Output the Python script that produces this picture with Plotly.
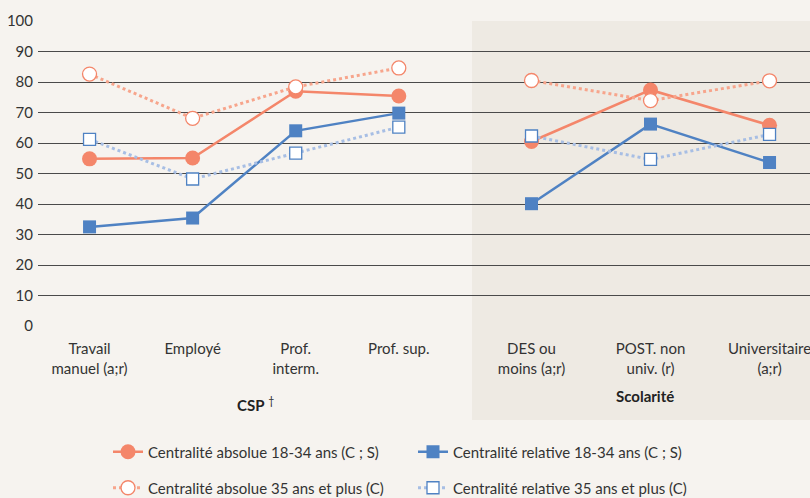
import plotly.graph_objects as go

csp_labels = ["Travail<br>manuel (a;r)", "Employé", "Prof.<br>interm.", "Prof. sup."]
sco_labels = ["DES ou<br>moins (a;r)", "POST. non<br>univ. (r)", "Universitaire<br>(a;r)"]

abs_1834_csp = [54.8, 55.1, 77.0, 75.4]
abs_1834_sco = [60.5, 77.4, 65.8]
rel_1834_csp = [32.5, 35.4, 64.0, 69.8]
rel_1834_sco = [40.1, 66.2, 53.6]
abs_35_csp = [82.6, 68.1, 78.4, 84.6]
abs_35_sco = [80.5, 73.9, 80.4]
rel_35_csp = [61.2, 48.2, 56.7, 65.2]
rel_35_sco = [62.3, 54.6, 62.8]

names = ["Centralité absolue 18-34 ans (C ; S)", "Centralité relative 18-34 ans (C ; S)",
         "Centralité absolue 35 ans et plus (C)", "Centralité relative 35 ans et plus (C)"]

SALMON = "#F4866A"
SALMON_L = "#F7A58C"
BLUE = "#4F82C3"
BLUE_L = "#A7BEE4"
BG = "#F6F3EF"
SHADE = "#EEEAE3"
FONT = "Lato"
FS = 15

styles = [
    dict(line=dict(color=SALMON, width=2.5), marker=dict(symbol="circle", size=15, color=SALMON, line=dict(width=0)), legend="legend"),
    dict(line=dict(color=BLUE, width=2.5), marker=dict(symbol="square", size=13, color=BLUE, line=dict(width=0)), legend="legend"),
    dict(line=dict(color=SALMON_L, width=3, dash="dot"), marker=dict(symbol="circle", size=14, color="white", line=dict(width=1.3, color=SALMON)), legend="legend2"),
    dict(line=dict(color=BLUE_L, width=3, dash="dot"), marker=dict(symbol="square", size=12, color="white", line=dict(width=1.3, color=BLUE)), legend="legend2"),
]
series_csp = [abs_1834_csp, rel_1834_csp, abs_35_csp, rel_35_csp]
series_sco = [abs_1834_sco, rel_1834_sco, abs_35_sco, rel_35_sco]

fig = go.Figure()
for i in range(4):
    st = styles[i]
    fig.add_trace(go.Scatter(x=csp_labels, y=series_csp[i], mode="lines+markers", name=names[i],
                             line=st["line"], marker=st["marker"], legend=st["legend"],
                             xaxis="x", yaxis="y"))
    fig.add_trace(go.Scatter(x=sco_labels, y=series_sco[i], mode="lines+markers", name=names[i],
                             line=st["line"], marker=st["marker"], showlegend=False,
                             xaxis="x2", yaxis="y"))

W, H = 810, 498
ml, mr, mt, mb = 38, 0, 21, 172
pw = W - ml - mr
ph = H - mt - mb
split = (472 - ml) / pw

def py(pix):
    return (H - mb - pix) / ph

def px(pix):
    return (pix - ml) / pw

tickfont = dict(family=FONT, size=FS, color="#333333")
axis_common = dict(showgrid=False, zeroline=False, showline=False, ticks="", tickfont=tickfont,
                   type="category", ticklabelstandoff=12)

legfont = dict(family=FONT, size=FS, color="#333333")
fig.update_layout(
    width=W, height=H,
    margin=dict(l=ml, r=mr, t=mt, b=mb, autoexpand=False),
    paper_bgcolor=BG, plot_bgcolor="rgba(0,0,0,0)",
    font=dict(family=FONT, size=FS, color="#333333"),
    xaxis=dict(domain=[0, split], range=[-0.5, 3.71], **axis_common),
    xaxis2=dict(domain=[split, 1], range=[-0.5, 2.34], anchor="y", **axis_common),
    yaxis=dict(range=[0, 100], tickvals=list(range(0, 101, 10)), showgrid=True,
               gridcolor="#4a4a4a", gridwidth=1, zeroline=False, showline=False,
               ticks="", tickfont=tickfont, ticklabelstandoff=4),
    legend=dict(orientation="h", x=px(108), xanchor="left", y=py(452), yanchor="middle",
                entrywidth=260, bgcolor="rgba(0,0,0,0)", font=legfont),
    legend2=dict(orientation="h", x=px(108), xanchor="left", y=py(488), yanchor="middle",
                 entrywidth=260, bgcolor="rgba(0,0,0,0)", font=legfont),
    shapes=[dict(type="rect", xref="paper", yref="paper", x0=split, x1=1.0, y0=py(420), y1=1.0,
                 fillcolor=SHADE, line=dict(width=0), layer="below")],
    annotations=[
        dict(text="<b>CSP</b> <sup>†</sup>", xref="paper", yref="paper", x=px(255), y=py(404),
             xanchor="center", yanchor="middle",
             showarrow=False, font=dict(family=FONT, size=FS, color="#222222")),
        dict(text="<b>Scolarité</b>", xref="paper", yref="paper", x=px(645), y=py(396),
             xanchor="center", yanchor="middle",
             showarrow=False, font=dict(family=FONT, size=FS, color="#222222")),
    ],
)

fig.write_html("out.html", config={"displayModeBar": False},
               post_script="document.body.style.margin='0';document.body.style.background='%s';" % BG)
